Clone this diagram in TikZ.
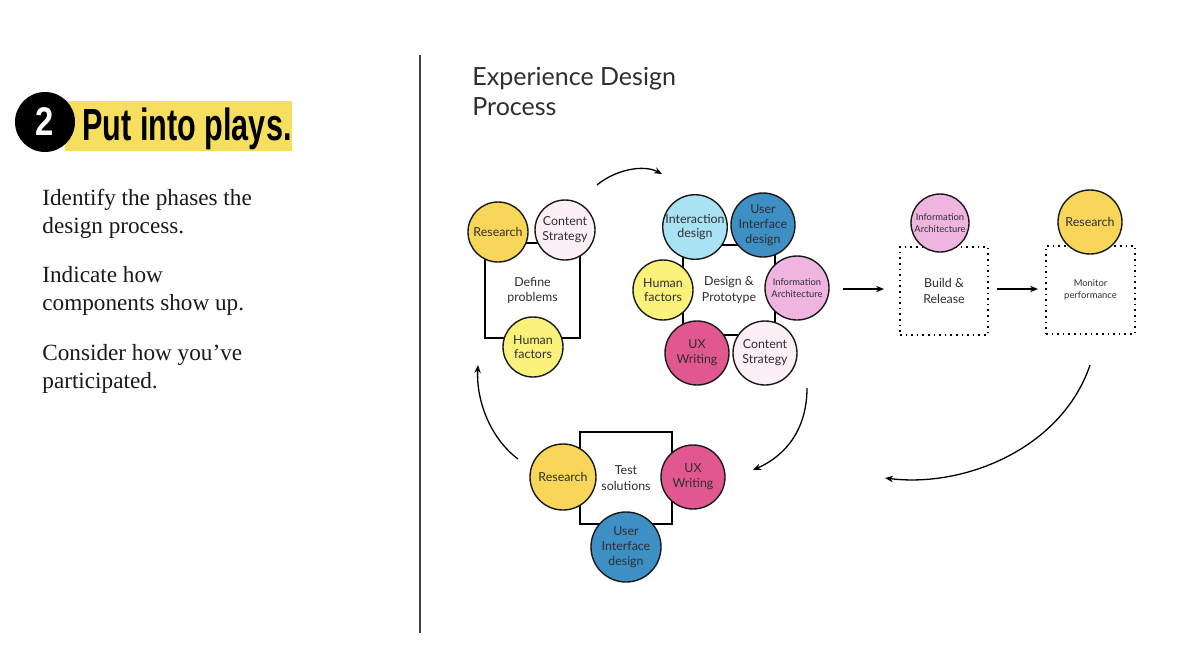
\documentclass[tikz,border=0pt]{standalone}
\usepackage{fontspec}
\usetikzlibrary{arrows.meta}
\newfontfamily\uifont{Lato}
\newfontfamily\headfont{Liberation Sans}
\newfontfamily\bodyfont{Liberation Serif}
\definecolor{hilite}{HTML}{F6DF5E}
\definecolor{cResearch}{HTML}{F7D65A}
\definecolor{cContent}{HTML}{FCEFF5}
\definecolor{cHuman}{HTML}{FBF27C}
\definecolor{cInter}{HTML}{A9E2F3}
\definecolor{cUI}{HTML}{3E8FC4}
\definecolor{cIA}{HTML}{EFB5E0}
\definecolor{cUX}{HTML}{E0588F}
\definecolor{txt}{HTML}{2E2E2E}
\definecolor{body}{HTML}{1A1A1A}
\tikzset{
  bub/.style={circle, draw=black!90, line width=0.7pt, minimum size=#1, inner sep=0pt,
    align=center, text=txt, font=\uifont\fontsize{6.2}{7.4}\selectfont},
  small/.style={font=\uifont\fontsize{4.7}{5.7}\selectfont},
  phase/.style={draw=black, line width=1pt, align=center, text=txt,
    font=\uifont\fontsize{6.2}{7.6}\selectfont},
  dotphase/.style={draw=black, line width=0.8pt, dotted, align=center, text=txt,
    font=\uifont\fontsize{6.2}{7.6}\selectfont},
  flow/.style={line width=0.65pt, -{Stealth[length=4pt,width=3.2pt]}},
  bodytext/.style={anchor=base west, inner sep=0pt, text=body, font=\bodyfont\fontsize{11.6}{13}\selectfont},
  title/.style={anchor=base west, inner sep=0pt, text=txt, font=\uifont\fontsize{12.5}{14}\selectfont}
}
\begin{document}
\begin{tikzpicture}[x=0.5pt,y=-0.5pt]
\fill[white] (0,0) rectangle (1200,665);
\useasboundingbox (0,0) rectangle (1200,665);

% ---- left panel ----
\fill[hilite] (65,101) rectangle (292,151);
\node[circle, fill=black, minimum size=30pt, inner sep=0pt, text=white,
  font=\headfont\bfseries\fontsize{20}{20}\selectfont] (num) at (45,122) {\scalebox{0.82}[1]{2}};
\node[anchor=base west, inner sep=0pt, text=black,
  font=\headfont\bfseries\fontsize{22.5}{24}\selectfont] (headline) at (82,140) {\scalebox{0.68}[1]{Put into plays.}};
\node[bodytext] (l1) at (42,205) {Identify the phases the};
\node[bodytext] (l2) at (42,233) {design process.};
\node[bodytext] (l3) at (42,282) {Indicate how};
\node[bodytext] (l4) at (42,310) {components show up.};
\node[bodytext] (l5) at (42,360) {Consider how you’ve};
\node[bodytext] (l6) at (42,388) {participated.};

\draw[black!75, line width=0.6pt] (420,55) -- (420,633);

% ---- title ----
\node[title] (t1) at (472,85) {Experience Design};
\node[title] (t2) at (472,115) {Process};

% ---- Define problems ----
\node[phase, minimum width=47.5pt, minimum height=47.5pt] (define) at (532.5,290.5) {Define\\problems};
\node[bub=30pt, fill=cResearch] (d1) at (498,232) {Research};
\node[bub=30pt, fill=cContent] (d2) at (565,230) {Content\\Strategy};
\node[bub=30pt, fill=cHuman] (d3) at (533,347) {Human\\factors};

% ---- Design & Prototype ----
\node[phase, minimum width=46pt, minimum height=45pt] (design) at (729,290) {Design \&\\Prototype};
\node[bub=32pt, fill=cInter] (p1) at (695,227) {Interaction\\design};
\node[bub=32pt, fill=cUI] (p2) at (763,225) {User\\Interface\\design};
\node[bub=30pt, fill=cHuman] (p3) at (663,290) {Human\\factors};
\node[bub=32pt, fill=cIA, small] (p4) at (797,288) {Information\\Architecture};
\node[bub=32pt, fill=cUX] (p5) at (697,353) {UX\\Writing};
\node[bub=32pt, fill=cContent] (p6) at (765,353) {Content\\Strategy};

% ---- Build & Release ----
\node[dotphase, minimum width=44pt, minimum height=44pt] (build) at (944,291) {Build \&\\Release};
\node[bub=29pt, fill=cIA, small] (b1) at (940,223) {Information\\Architecture};

% ---- Monitor performance ----
\node[dotphase, minimum width=44.5pt, minimum height=44pt, small] (monitor) at (1090.5,290) {Monitor\\performance};
\node[bub=32pt, fill=cResearch] (m1) at (1090,222) {Research};

% ---- Test solutions ----
\node[phase, minimum width=46pt, minimum height=46pt] (test) at (626,478) {Test\\solutions};
\node[bub=33pt, fill=cResearch] (s1) at (563,477) {Research};
\node[bub=32pt, fill=cUX] (s2) at (693,477) {UX\\Writing};
\node[bub=35pt, fill=cUI] (s3) at (626,547) {User\\Interface\\design};

% ---- flow arrows ----
\coordinate (a1s) at (597,185);
\coordinate (a1e) at (662,174);
\coordinate (a2s) at (518,459);
\coordinate (a2e) at (478,365);
\coordinate (a3s) at (807,388);
\coordinate (a3e) at (753,470);
\coordinate (a4s) at (1090,365);
\coordinate (a4e) at (885,478);
\coordinate (a5s) at (843,289);
\coordinate (a5e) at (884,289);
\coordinate (a6s) at (997,289);
\coordinate (a6e) at (1038,289);

\draw[flow] (a1s) .. controls (615,170) and (643,164) .. (a1e);
\draw[flow] (a2s) .. controls (490,438) and (476,400) .. (a2e);
\draw[flow] (a3s) .. controls (807,428) and (787,455) .. (a3e);
\draw[flow] (a4s) .. controls (1062,448) and (965,488) .. (a4e);
\draw[flow] (a5s) -- (a5e);
\draw[flow] (a6s) -- (a6e);
\end{tikzpicture}
\end{document}
